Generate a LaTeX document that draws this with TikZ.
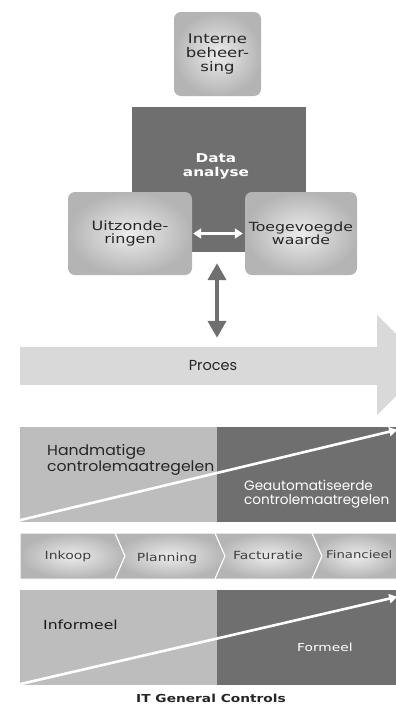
\documentclass[tikz,border=0pt]{standalone}
\usepackage{fontspec}
\setmainfont{DejaVu Sans}
\newfontfamily\widefont[FakeStretch=1.25]{DejaVu Sans}
\newfontfamily\procfont{Poppins}
\newfontfamily\procwide[FakeStretch=1.08]{Poppins}
\usetikzlibrary{arrows.meta}

\definecolor{darkgr}{HTML}{6F6F6F}
\definecolor{lightgr}{HTML}{BDBDBD}
\definecolor{procgr}{HTML}{D9D9D9}
\definecolor{boxin}{HTML}{ECECEC}
\definecolor{boxout}{HTML}{B4B4B4}

\tikzset{
  softbox/.style={rounded corners=7pt, inner color=boxin, outer color=boxout,
    align=center, inner sep=0pt, text=black!85},
  panel/.style={inner sep=0pt, minimum height=95pt},
  lbl/.style={align=left, anchor=west, inner sep=0pt, font=\procwide\fontsize{14.5}{14}\selectfont},
  chev/.style={draw=white, line width=1pt, inner color=boxin, outer color=boxout},
  chevlbl/.style={inner sep=0pt, font=\widefont\fontsize{11.2}{13}\selectfont, text=black!75},
  whitearrow/.style={white, line width=2.6pt, -{Triangle[length=8pt,width=9pt]}},
}

\begin{document}
\begin{tikzpicture}[x=1pt,y=-1pt]
\useasboundingbox (0,0) rectangle (396,704);
\clip (0,0) rectangle (396,704);

% top block
\node[softbox, minimum width=87pt, minimum height=84pt, font=\widefont\fontsize{13.2}{14}\selectfont] (intern) at (217.5,54) {Interne\\beheer-\\sing};
\node[fill=darkgr, minimum width=174pt, minimum height=145pt, inner sep=0pt] (data) at (219,179.5) {};
\node[white, align=center, font=\widefont\fontsize{12.2}{14}\selectfont\bfseries] (datalbl) at (216,166) {Data\\analyse};
\node[softbox, minimum width=124pt, minimum height=83pt, font=\widefont\fontsize{12.8}{13.5}\selectfont] (uitz) at (130,233.5) {Uitzonde-\\ringen};
\node[softbox, minimum width=112pt, minimum height=83pt, font=\widefont\fontsize{12.6}{13.5}\selectfont] (toeg) at (301,233.5) {Toegevoegde\\waarde};
\draw[white, line width=2.6pt, {Triangle[length=8pt,width=10pt]}-{Triangle[length=8pt,width=10pt]},
  shorten <=1pt, shorten >=2pt] (uitz.east) -- (toeg.west);

% proces arrow
\node[fill=procgr, minimum width=357pt, minimum height=38pt, inner sep=0pt] (proces) at (198.5,366) {};
\fill[procgr] (proces.north east) -- (377,315) -- (427,365) -- (377,415) -- (proces.south east) -- cycle;
\node[font=\procfont\fontsize{14.5}{14}\selectfont, text=black!85] (proclbl) at (213,366) {Proces};
\draw[darkgr, line width=4pt, {Triangle[length=17pt,width=18pt]}-{Triangle[length=17pt,width=18pt]},
  shorten <=11pt, shorten >=9pt] ([xshift=-2pt]data.south) -- ([xshift=-2pt]data.south |- proces.north);

% handmatig / geautomatiseerd
\node[panel, fill=lightgr, minimum width=197pt] (handL) at (118.5,474.5) {};
\node[panel, fill=darkgr, minimum width=183pt] (handR) at (308.5,474.5) {};
\node[lbl, text=black!85] (hand) at (47,460) {Handmatige\\controlemaatregelen};
\node[lbl, white, font=\procfont\fontsize{13.6}{14}\selectfont] (auto) at (244,494) {Geautomatiseerde\\controlemaatregelen};
\draw[whitearrow] ([yshift=2pt]handL.south west) -- ([yshift=-3pt,xshift=-3pt]handR.north east);

% process steps
\draw[chev] (20,533) -- (115,533) -- (125,556) -- (115,579) -- (20,579) -- cycle;
\foreach \l/\r in {115/215,215/312}{
  \draw[chev] (\l,533) -- (\r,533) -- (\r+10,556) -- (\r,579) -- (\l,579) -- (\l+10,556) -- cycle;
}
\draw[chev] (312,533) -- (400,533) -- (400,579) -- (312,579) -- (322,556) -- cycle;
\node[chevlbl] (inkoop) at (68,556) {Inkoop};
\node[chevlbl] (planning) at (167,558) {Planning};
\node[chevlbl] (fact) at (268,555) {Facturatie};
\node[chevlbl, anchor=west, font=\widefont\fontsize{10.6}{13}\selectfont] (fin) at (326,555) {Financieel};

% informeel / formeel
\node[panel, fill=lightgr, minimum width=197pt] (infL) at (118.5,637.5) {};
\node[panel, fill=darkgr, minimum width=183pt] (infR) at (308.5,637.5) {};
\node[lbl, font=\widefont\fontsize{12.5}{14}\selectfont, text=black!90] (inf) at (43,625) {Informeel};
\node[lbl, white, font=\widefont\fontsize{11}{14}\selectfont] (form) at (297,647) {Formeel};
\draw[whitearrow] ([yshift=1pt]infL.south west) -- ([yshift=-7pt,xshift=-3pt]infR.north east);

\node[font=\widefont\fontsize{11}{13}\selectfont\bfseries, text=black!85] (itgc) at (211,698) {IT General Controls};
\end{tikzpicture}
\end{document}
